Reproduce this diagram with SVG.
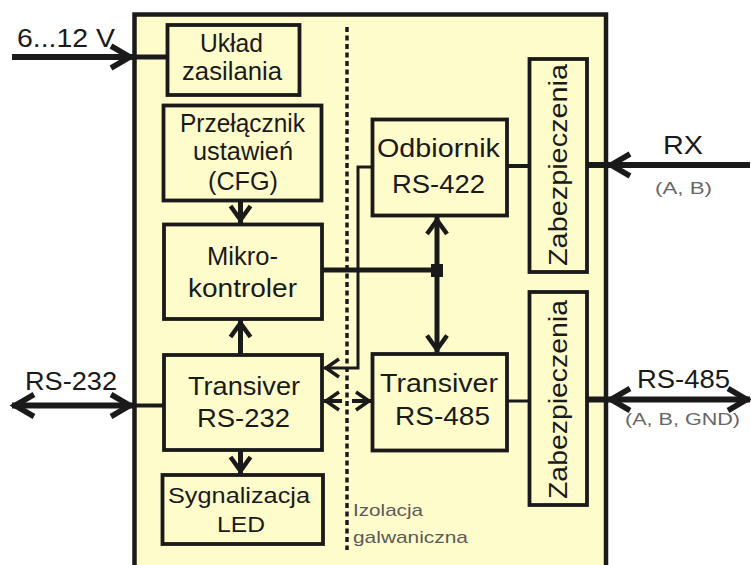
<svg xmlns="http://www.w3.org/2000/svg" width="751" height="565" viewBox="0 0 751 565">
<style>
.bg{fill:#FFFCCC;stroke:#1a1a1a;stroke-width:4.5}
.box{fill:#FFFCCC;stroke:#1a1a1a;stroke-width:3.8}
.t{font-family:"Liberation Sans",Arial,sans-serif;font-size:25px;fill:#1a1a1a}
.ts{font-family:"Liberation Sans",Arial,sans-serif;font-size:17px;fill:#5a5a5a}
.ln{fill:none;stroke:#1a1a1a;stroke-linecap:butt}
.w6{stroke-width:6}
.w5{stroke-width:5}
.w4{stroke-width:4}
.w3{stroke-width:3}
.iso{fill:none;stroke:#1a1a1a;stroke-width:3.5;stroke-dasharray:5 3.5}
</style>
<defs>
<marker id="ab" markerUnits="userSpaceOnUse" orient="auto-start-reverse" refX="0" refY="0" style="overflow:visible">
<path d="M-22,-11 L-3,0 L-22,11" fill="none" stroke="#1a1a1a" stroke-width="5.5"/>
</marker>
<marker id="am" markerUnits="userSpaceOnUse" orient="auto-start-reverse" refX="0" refY="0" style="overflow:visible">
<path d="M-17,-10 L-3,0 L-17,10" fill="none" stroke="#1a1a1a" stroke-width="4.5"/>
</marker>
<marker id="as" markerUnits="userSpaceOnUse" orient="auto-start-reverse" refX="0" refY="0" style="overflow:visible">
<path d="M-15,-9 L-2,0 L-15,9" fill="none" stroke="#1a1a1a" stroke-width="3.5"/>
</marker>
</defs>
<rect x="0" y="0" width="751" height="565" fill="#ffffff"/>
<g id="enclosure">
<rect class="bg" x="134.5" y="14.5" width="471.5" height="570"/>
</g>
<g id="isolation">
<line class="iso" x1="347" y1="27" x2="347" y2="550"/>
<text class="ts" x="353" y="516" textLength="70" lengthAdjust="spacingAndGlyphs">Izolacja</text>
<text class="ts" x="353" y="543" textLength="115" lengthAdjust="spacingAndGlyphs">galwaniczna</text>
</g>
<g id="connectors">
<line class="ln w6" x1="12" y1="57" x2="133" y2="57" marker-end="url(#ab)"/>
<line class="ln w5" x1="134" y1="57" x2="167" y2="57"/>
<line class="ln w6" x1="12" y1="405.5" x2="133" y2="405.5" marker-start="url(#ab)" marker-end="url(#ab)"/>
<line class="ln w4" x1="134" y1="405.5" x2="164" y2="405.5"/>
<line class="ln w6" x1="750" y1="165" x2="608" y2="165" marker-end="url(#ab)"/>
<line class="ln w6" x1="587" y1="165" x2="606" y2="165"/>
<line class="ln w4" x1="507" y1="166" x2="529.5" y2="166"/>
<line class="ln w6" x1="608" y1="399.5" x2="750" y2="399.5" marker-start="url(#ab)" marker-end="url(#ab)"/>
<line class="ln w6" x1="587" y1="399.5" x2="606" y2="399.5"/>
<line class="ln w3" x1="507" y1="401" x2="529.5" y2="401"/>
<line class="ln w5" x1="240.5" y1="200.5" x2="240.5" y2="223" marker-end="url(#am)"/>
<line class="ln w5" x1="240.5" y1="355" x2="240.5" y2="320" marker-end="url(#am)"/>
<line class="ln w5" x1="240.5" y1="450" x2="240.5" y2="474" marker-end="url(#am)"/>
<line class="ln w5" x1="437" y1="217" x2="437" y2="352.5" marker-start="url(#am)" marker-end="url(#am)"/>
<line class="ln w5" x1="322" y1="270" x2="437" y2="270"/>
<rect x="431" y="264" width="12" height="13" fill="#1a1a1a"/>
<path class="ln w3" d="M372.5,167 H358 V368 H324" marker-end="url(#as)"/>
<path class="ln w4" d="M342,401 H324" marker-end="url(#as)"/>
<path class="ln w4" d="M352,401 H371" marker-end="url(#as)"/>
</g>
<g id="uklad-zasilania">
<rect class="box" x="167.5" y="25" width="132" height="70"/>
<text class="t" x="200" y="52" textLength="63" lengthAdjust="spacingAndGlyphs">Układ</text>
<text class="t" x="182" y="80" textLength="100" lengthAdjust="spacingAndGlyphs">zasilania</text>
</g>
<g id="przelacznik">
<rect class="box" x="163.5" y="105.5" width="158" height="95"/>
<text class="t" x="180" y="132" textLength="125" lengthAdjust="spacingAndGlyphs">Przełącznik</text>
<text class="t" x="193" y="160" textLength="100" lengthAdjust="spacingAndGlyphs">ustawień</text>
<text class="t" x="208" y="190" textLength="70" lengthAdjust="spacingAndGlyphs">(CFG)</text>
</g>
<g id="mikrokontroler">
<rect class="box" x="164" y="224.5" width="158" height="94.5"/>
<text class="t" x="207" y="265" textLength="71" lengthAdjust="spacingAndGlyphs">Mikro-</text>
<text class="t" x="188" y="297" textLength="109" lengthAdjust="spacingAndGlyphs">kontroler</text>
</g>
<g id="transiver-rs232">
<rect class="box" x="164" y="355" width="158" height="95"/>
<text class="t" x="188" y="395" textLength="112" lengthAdjust="spacingAndGlyphs">Transiver</text>
<text class="t" x="197" y="427" textLength="93" lengthAdjust="spacingAndGlyphs">RS-232</text>
</g>
<g id="sygnalizacja-led">
<rect class="box" x="162.5" y="475" width="160.5" height="69"/>
<text class="t" x="168" y="503" textLength="142" lengthAdjust="spacingAndGlyphs" style="font-size:22px">Sygnalizacja</text>
<text class="t" x="217" y="532" textLength="48" lengthAdjust="spacingAndGlyphs" style="font-size:22px">LED</text>
</g>
<g id="odbiornik-rs422">
<rect class="box" x="372.5" y="119.5" width="134.5" height="96"/>
<text class="t" x="377" y="157" textLength="123" lengthAdjust="spacingAndGlyphs">Odbiornik</text>
<text class="t" x="392" y="193" textLength="93" lengthAdjust="spacingAndGlyphs">RS-422</text>
</g>
<g id="transiver-rs485">
<rect class="box" x="372.5" y="354" width="134.5" height="96.5"/>
<text class="t" x="380" y="392" textLength="118" lengthAdjust="spacingAndGlyphs">Transiver</text>
<text class="t" x="395" y="425" textLength="95" lengthAdjust="spacingAndGlyphs">RS-485</text>
</g>
<g id="zabezpieczenia-1">
<rect class="box" x="529.5" y="59" width="57.5" height="213"/>
<text class="t" transform="translate(567,266) rotate(-90)" x="0" y="0" textLength="202" lengthAdjust="spacingAndGlyphs">Zabezpieczenia</text>
</g>
<g id="zabezpieczenia-2">
<rect class="box" x="529.5" y="292" width="57.5" height="213"/>
<text class="t" transform="translate(567,499) rotate(-90)" x="0" y="0" textLength="199" lengthAdjust="spacingAndGlyphs">Zabezpieczenia</text>
</g>
<g id="labels">
<text class="t" x="17" y="47" textLength="98" lengthAdjust="spacingAndGlyphs">6...12 V</text>
<text class="t" x="25" y="390" textLength="92" lengthAdjust="spacingAndGlyphs">RS-232</text>
<text class="t" x="663" y="154" textLength="40" lengthAdjust="spacingAndGlyphs">RX</text>
<text class="ts" x="655" y="194" textLength="57" lengthAdjust="spacingAndGlyphs" style="fill:#666">(A, B)</text>
<text class="t" x="637" y="388" textLength="93" lengthAdjust="spacingAndGlyphs">RS-485</text>
<text class="ts" x="625" y="425" textLength="115" lengthAdjust="spacingAndGlyphs" style="fill:#666">(A, B, GND)</text>
</g>
</svg>
